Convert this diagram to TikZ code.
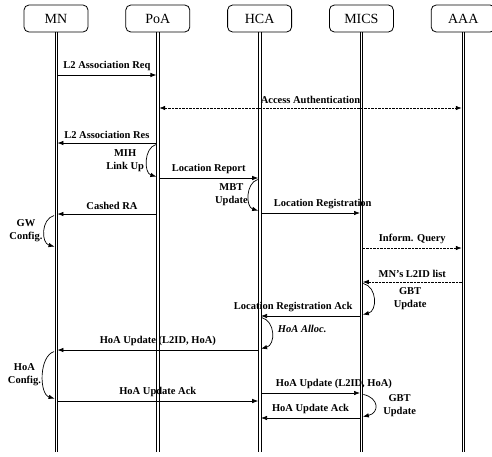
\documentclass[tikz,border=0pt]{standalone}
\usepackage{fontspec}
\setmainfont{Liberation Serif}
\usetikzlibrary{arrows.meta, positioning}

\begin{document}
\begin{tikzpicture}[>={Latex[length=6pt,width=4.5pt]}, x=1pt, y=-1pt,
    ent/.style={draw, rounded corners=5pt, line width=0.8pt, minimum width=64pt,
        minimum height=27pt, font=\fontsize{14}{15}\selectfont},
    life/.style={line width=0.55pt},
    msg/.style={->, line width=0.7pt, shorten >=1.4pt, shorten <=1.4pt},
    dmsg/.style={msg, dash pattern=on 2.5pt off 1pt},
    loopy/.style={->, line width=0.7pt, shorten >=1.5pt, shorten <=2pt},
    lbl/.style={font=\fontsize{10.5}{13}\selectfont\bfseries, inner sep=0pt}]
    \useasboundingbox (0,0) rectangle (492,456);

    % 1. Entities and lifelines
    \node[ent] (mn) at (56,18.5) {MN};
    \node[ent, right=37pt of mn] (poa) {PoA};
    \node[ent, right=37pt of poa] (hca) {HCA};
    \node[ent, right=37pt of hca] (mics) {MICS};
    \node[ent, right=37pt of mics] (aaa) {AAA};
    \foreach \e in {mn,poa,hca,mics,aaa} {
        \foreach \s in {-1.2,1.2} {
            \draw[life] ([xshift=\s pt]\e.south) -- ([xshift=\s pt]\e.south |- 0,452);
        }
    }

    % 2. Messages
    \draw[msg] (mn |- 0,75) -- (poa |- 0,75)
        node[lbl, midway, above=4pt] {L2 Association Req};
    \draw[dmsg, <->] (poa |- 0,108) -- (aaa |- 0,108)
        node[lbl, midway, above=4pt] {Access Authentication};
    \draw[msg] (poa |- 0,143) -- (mn |- 0,143)
        node[lbl, midway, above=4pt] {L2 Association Res};
    \draw[msg] (poa |- 0,178) -- (hca |- 0,178)
        node[lbl, midway, above=4pt] {Location Report};
    \draw[msg] (poa |- 0,214) -- (mn |- 0,214)
        node[lbl, pos=0.45, above=4pt] {Cashed RA};
    \draw[msg] (hca |- 0,213) -- (mics |- 0,213)
        node[lbl, pos=0.62, above=4pt] {Location Registration};
    \draw[dmsg] (mics |- 0,248) -- (aaa |- 0,248)
        node[lbl, midway, above=4pt] {Inform. Query};
    \draw[dmsg] (aaa |- 0,282) -- (mics |- 0,282)
        node[lbl, midway, above=4pt] {MN's L2ID list};
    \draw[msg] (mics |- 0,316) -- (hca |- 0,316)
        node[lbl, pos=0.67, above=4pt] {Location Registration Ack};
    \draw[msg] (hca |- 0,350) -- (mn |- 0,350)
        node[lbl, midway, above=4pt] {HoA Update (L2ID, HoA)};
    \draw[msg] (hca |- 0,393) -- (mics |- 0,393)
        node[lbl, pos=0.73, above=4pt] {HoA Update (L2ID, HoA)};
    \draw[msg] (mn |- 0,401) -- (hca |- 0,401)
        node[lbl, midway, above=4pt] {HoA Update Ack};
    \draw[msg] (mics |- 0,418) -- (hca |- 0,418)
        node[lbl, midway, above=4pt] {HoA Update Ack};

    % 3. Local processing
    \draw[loopy] (poa |- 0,144) .. controls +(-14,4) and +(-14,-4) .. (poa |- 0,177)
        node[lbl, midway, left=3pt, align=center] {MIH\\Link Up};
    \draw[loopy] (hca |- 0,179) .. controls +(-14,4) and +(-14,-4) .. (hca |- 0,211)
        node[lbl, midway, left=1pt, align=center] {MBT\\Update};
    \draw[loopy] (mn |- 0,215) .. controls +(-15,4) and +(-15,-4) .. (mn |- 0,247)
        node[lbl, midway, left=2pt, align=center] {GW\\Config.};
    \draw[loopy] (mics |- 0,283) .. controls +(16,4) and +(16,-4) .. (mics |- 0,315)
        node[lbl, midway, right=20pt, align=center] {GBT\\Update};
    \draw[loopy] (hca |- 0,317) .. controls +(16,4) and +(16,-4) .. (hca |- 0,349)
        node[lbl, midway, right=6pt, yshift=4pt, font=\fontsize{10.5}{13}\selectfont\bfseries\itshape] {HoA Alloc.};
    \draw[loopy] (mn |- 0,351) .. controls +(-17,5) and +(-17,-5) .. (mn |- 0,399)
        node[lbl, midway, left=2pt, align=center] {HoA\\Config.};
    \draw[loopy] (mics |- 0,394) .. controls +(18,4) and +(18,-4) .. (mics |- 0,417)
        node[lbl, midway, right=8pt, align=center] {GBT\\Update};
\end{tikzpicture}
\end{document}
